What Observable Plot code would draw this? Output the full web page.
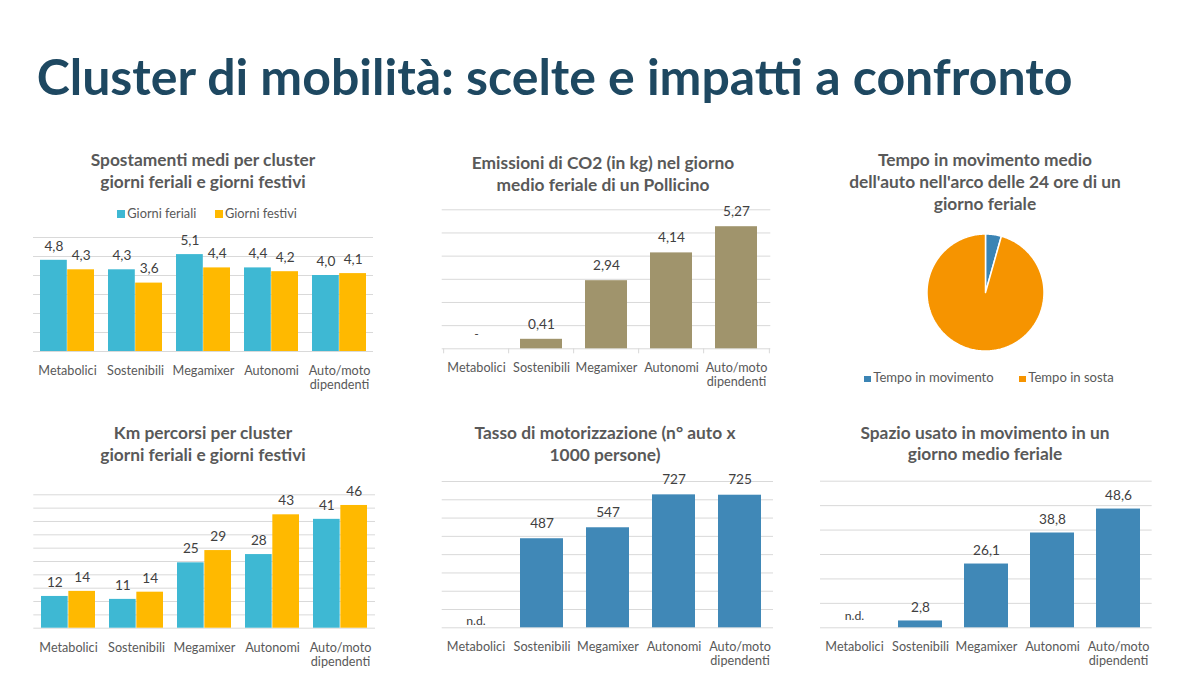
<!DOCTYPE html>
<html><head><meta charset="utf-8">
<script src="https://cdn.jsdelivr.net/npm/d3@7"></script>
<script src="https://cdn.jsdelivr.net/npm/@observablehq/plot@0.6"></script>
<style>
html,body{margin:0;padding:0;background:#fff;}
#page{position:relative;width:1196px;height:688px;overflow:hidden;font-family:Lato,"Open Sans",sans-serif;}
.abs{position:absolute;white-space:nowrap;}
</style></head><body><div id="page"></div>
<script>
// ---------------- DATA ----------------
const clusters = ["Metabolici", "Sostenibili", "Megamixer", "Autonomi", "Auto/moto\ndipendenti"];
const seriesNames = ["Giorni feriali", "Giorni festivi"];

const spostFeriali = [4.8, 4.3, 5.1, 4.4, 4.0];
const spostFestivi = [4.3, 3.6, 4.4, 4.2, 4.1];
const spostTicks = [0, 1, 2, 3, 4, 5, 6];

const co2Values = [null, 0.41, 2.94, 4.14, 5.27];
const co2Ticks = [0, 1, 2, 3, 4, 5, 6];

const pieLabels = ["Tempo in movimento", "Tempo in sosta"];
const pieValues = [1.05, 22.95];

const kmFeriali = [11.9, 10.8, 24.5, 27.6, 40.8];
const kmFestivi = [13.8, 13.5, 29.1, 42.5, 46.0];
const kmTicks = [0, 5, 10, 15, 20, 25, 30, 35, 40, 45, 50];

const tassoValues = [null, 487, 547, 727, 725];
const tassoTicks = [0, 100, 200, 300, 400, 500, 600, 700, 800];

const spazioValues = [null, 2.8, 26.1, 38.8, 48.6];
const spazioTicks = [0, 10, 20, 30, 40, 50, 60];

const mainTitle = "Cluster di mobilità: scelte e impatti a confronto";
const chartTitles = {
  spost: ["Spostamenti medi per cluster", "giorni feriali e giorni festivi"],
  co2: ["Emissioni di CO2 (in kg) nel giorno", "medio feriale di un Pollicino"],
  pie: ["Tempo in movimento medio", "dell'auto nell'arco delle 24 ore di un", "giorno feriale"],
  km: ["Km percorsi per cluster", "giorni feriali e giorni festivi"],
  tasso: ["Tasso di motorizzazione (n° auto x", "1000 persone)"],
  spazio: ["Spazio usato in movimento in un", "giorno medio feriale"]
};

// ---------------- STYLE ----------------
const FONT = "Lato";
const C = {
  title: "#1E4861", chartTitle: "#595959", axis: "#595959", value: "#404040", grid: "#d9d9d9",
  cyan: "#3EB8D3", yellow: "#FFB900", khaki: "#A0946C", blue: "#4088B7",
  pieBlue: "#3B84B4", pieOrange: "#F69400"
};

const page = document.getElementById("page");
const cvs = document.createElement("canvas").getContext("2d");
function fitSize(strings, weight, target) {
  cvs.font = `${weight} 100px ${FONT}`;
  const w = strings.reduce((s, t) => s + cvs.measureText(t).width, 0);
  return 100 * target / w;
}
const titleSize = fitSize([mainTitle], 700, 1037);
const chartTitleSize = (fitSize(["Emissioni di CO2 (in kg) nel giorno"], 700, 263) + fitSize(["Spostamenti medi per cluster"], 700, 224.5)) / 2;
const axisSize = fitSize(["Metabolici", "Sostenibili", "Megamixer", "Autonomi", "Auto/moto"], 400, 293.7);
const valueSize = fitSize(["5,27", "4,14", "2,94", "0,41"], 400, 107.4);
const legendSize = fitSize(["Giorni feriali", "Giorni festivi"], 400, 141.1);
const pieLegendSize = fitSize(pieLabels, 400, 206);

function baselineShift(div) {
  const m = div.querySelector(".bl").getBoundingClientRect().top;
  return m - page.getBoundingClientRect().top - parseFloat(div.style.top);
}
function addText(lines, {x, baseline, align = "center", size, weight = 400, color, lineHeight}) {
  const div = document.createElement("div");
  div.className = "abs";
  div.style.font = `${weight} ${size}px ${FONT}`;
  div.style.lineHeight = lineHeight + "px";
  div.style.color = color;
  const mk = document.createElement("span");
  mk.className = "bl";
  mk.style.cssText = "display:inline-block;width:0;height:0;";
  div.appendChild(mk);
  lines.forEach((l, i) => {
    if (i > 0) div.appendChild(document.createElement("br"));
    div.appendChild(document.createTextNode(l));
  });
  div.style.top = "0px";
  if (align === "center") { div.style.left = (x - 300) + "px"; div.style.width = "600px"; div.style.textAlign = "center"; }
  else div.style.left = x + "px";
  page.appendChild(div);
  div.style.top = (baseline - baselineShift(div)) + "px";
}
function addLegendItem(label, {x, baseline, size, color, swatch, gap}) {
  const div = document.createElement("div");
  div.className = "abs";
  div.style.font = `400 ${size}px ${FONT}`;
  div.style.color = C.axis;
  div.style.left = x + "px";
  div.style.top = "0px";
  const mk = document.createElement("span");
  mk.className = "bl";
  mk.style.cssText = "display:inline-block;width:0;height:0;";
  const sw = document.createElement("span");
  sw.style.cssText = `display:inline-block;width:${swatch}px;height:${swatch}px;background:${color};margin-right:${gap}px;`;
  div.appendChild(mk); div.appendChild(sw); div.appendChild(document.createTextNode(label));
  page.appendChild(div);
  div.style.top = (baseline - baselineShift(div)) + "px";
}

const fmtComma = p => v => d3.format(`.${p}f`)(v).replace(".", ",");

function barChart({box, plot, ticks, series, padInner, fmt, valueDy, missingText, missingDy, boundaryTicks = false}) {
  const [left, top, w, h] = box;
  const [x0, x1, yTop, yBase] = plot;
  const step = (x1 - x0) / clusters.length;
  const bw = step * (1 - padInner);
  const n = series.length;
  const marks = [Plot.ruleY(ticks, {stroke: C.grid, strokeWidth: 1})];
  if (boundaryTicks) {
    marks.push(Plot.ruleX(clusters, {x: d => d, y1: () => 0, y2: () => 0, dx: -step / 2, insetBottom: -5, stroke: C.grid}));
    marks.push(Plot.ruleX(clusters.slice(-1), {x: d => d, y1: () => 0, y2: () => 0, dx: step / 2, insetBottom: -5, stroke: C.grid}));
  }
  series.forEach((s, k) => {
    const rows = clusters.map((c, i) => ({cat: c, value: s.values[i]}));
    const present = rows.filter(d => d.value != null);
    const missing = rows.filter(d => d.value == null);
    const dx = (k + 0.5) * bw / n - bw / 2;
    marks.push(Plot.barY(present, {x: "cat", y: "value", fill: s.color, insetLeft: k * bw / n, insetRight: (n - 1 - k) * bw / n}));
    marks.push(Plot.text(present, {x: "cat", y: "value", text: d => fmt(d.value), dx, dy: valueDy, lineAnchor: "middle", fill: C.value, fontSize: valueSize, fontFamily: FONT}));
    if (missing.length) marks.push(Plot.text(missing, {x: "cat", frameAnchor: "bottom", text: () => missingText, dx, dy: missingDy, lineAnchor: "middle", fill: C.value, fontSize: valueSize * 0.9, fontFamily: FONT}));
  });
  marks.push(Plot.text(clusters, {x: d => d, frameAnchor: "bottom", text: d => d, lineAnchor: "top", dy: 22.5 - 0.71 * axisSize, lineHeight: 14 / axisSize, fill: C.axis, fontSize: axisSize, fontFamily: FONT}));
  const svg = Plot.plot({
    width: w, height: h,
    marginLeft: x0 - left, marginRight: left + w - x1, marginTop: yTop - top, marginBottom: top + h - yBase,
    x: {domain: clusters, axis: null, paddingInner: padInner, paddingOuter: padInner / 2},
    y: {domain: [0, ticks[ticks.length - 1]], axis: null},
    style: {fontFamily: FONT, background: "transparent", overflow: "visible"},
    marks
  });
  const div = document.createElement("div");
  div.className = "abs";
  div.style.left = left + "px"; div.style.top = top + "px"; div.style.width = w + "px"; div.style.height = h + "px";
  div.appendChild(svg);
  page.appendChild(div);
}

// ---------------- MAIN TITLE ----------------
addText([mainTitle], {x: 36.7, baseline: 95, align: "left", size: titleSize, weight: 700, color: C.title, lineHeight: titleSize * 1.2});

// ---------------- PANEL 1: Spostamenti ----------------
addText(chartTitles.spost, {x: 203, baseline: 166, size: chartTitleSize, weight: 700, color: C.chartTitle, lineHeight: 21.5});
addLegendItem(seriesNames[0], {x: 117.3, baseline: 217.5, size: legendSize, color: C.cyan, swatch: 7.7, gap: 2.3});
addLegendItem(seriesNames[1], {x: 215, baseline: 217.5, size: legendSize, color: C.yellow, swatch: 7.7, gap: 2.3});
barChart({box: [20, 215, 370, 185], plot: [33, 373, 237, 351], ticks: spostTicks,
  series: [{values: spostFeriali, color: C.cyan}, {values: spostFestivi, color: C.yellow}],
  padInner: 0.2, fmt: fmtComma(1), valueDy: -14});

// ---------------- PANEL 2: CO2 ----------------
addText(chartTitles.co2, {x: 603, baseline: 169, size: chartTitleSize, weight: 700, color: C.chartTitle, lineHeight: 21.5});
barChart({box: [430, 190, 360, 210], plot: [441.7, 770.3, 209.3, 348.3], ticks: co2Ticks,
  series: [{values: co2Values, color: C.khaki}],
  padInner: 0.36, fmt: fmtComma(2), valueDy: -15, missingText: "-", missingDy: -15, boundaryTicks: true});

// ---------------- PANEL 3: Pie ----------------
addText(chartTitles.pie, {x: 985, baseline: 166, size: chartTitleSize, weight: 700, color: C.chartTitle, lineHeight: 22});
{
  const arcs = d3.pie().sort(null)(pieValues);
  const pieColors = [C.pieBlue, C.pieOrange];
  const marks = arcs.map((a, i) => {
    const nSeg = Math.max(2, Math.ceil((a.endAngle - a.startAngle) / (Math.PI / 180)));
    const pts = [{px: 0, py: 0}];
    for (let k = 0; k <= nSeg; k++) {
      const t = a.startAngle + (a.endAngle - a.startAngle) * k / nSeg;
      pts.push({px: Math.sin(t), py: Math.cos(t)});
    }
    pts.push({px: 0, py: 0});
    return Plot.line(pts, {x: "px", y: "py", fill: pieColors[i], stroke: "white", strokeWidth: 1.5, strokeLinejoin: "miter"});
  });
  const cx = 985, cy = 292, r = 58.5, half = 70;
  const svg = Plot.plot({
    width: half * 2, height: half * 2,
    marginLeft: half - r, marginRight: half - r, marginTop: half - r, marginBottom: half - r,
    x: {domain: [-1, 1], axis: null}, y: {domain: [-1, 1], axis: null},
    style: {background: "transparent", overflow: "visible"},
    marks
  });
  const div = document.createElement("div");
  div.className = "abs";
  div.style.left = (cx - half) + "px"; div.style.top = (cy - half) + "px";
  div.appendChild(svg);
  page.appendChild(div);
  addLegendItem(pieLabels[0], {x: 864.3, baseline: 382, size: pieLegendSize, color: C.pieBlue, swatch: 6.5, gap: 2.5});
  addLegendItem(pieLabels[1], {x: 1019.3, baseline: 382, size: pieLegendSize, color: C.pieOrange, swatch: 6.5, gap: 2.5});
}

// ---------------- PANEL 4: Km ----------------
addText(chartTitles.km, {x: 203, baseline: 438.5, size: chartTitleSize, weight: 700, color: C.chartTitle, lineHeight: 22.5});
barChart({box: [20, 470, 370, 210], plot: [33.3, 375, 494.3, 627.7], ticks: kmTicks,
  series: [{values: kmFeriali, color: C.cyan}, {values: kmFestivi, color: C.yellow}],
  padInner: 0.2, fmt: d3.format(".0f"), valueDy: -14});

// ---------------- PANEL 5: Tasso ----------------
addText(chartTitles.tasso, {x: 605, baseline: 439, size: chartTitleSize, weight: 700, color: C.chartTitle, lineHeight: 22});
barChart({box: [430, 460, 360, 220], plot: [441.7, 773, 481, 627.3], ticks: tassoTicks,
  series: [{values: tassoValues, color: C.blue}],
  padInner: 0.35, fmt: d3.format(".0f"), valueDy: -15.5, missingText: "n.d.", missingDy: -6.5});

// ---------------- PANEL 6: Spazio ----------------
addText(chartTitles.spazio, {x: 985, baseline: 438.5, size: chartTitleSize, weight: 700, color: C.chartTitle, lineHeight: 21.5});
barChart({box: [810, 460, 360, 220], plot: [820, 1151.7, 480.7, 627.3], ticks: spazioTicks,
  series: [{values: spazioValues, color: C.blue}],
  padInner: 0.34, fmt: fmtComma(1), valueDy: -13.5, missingText: "n.d.", missingDy: -12});
</script>
</body></html>
